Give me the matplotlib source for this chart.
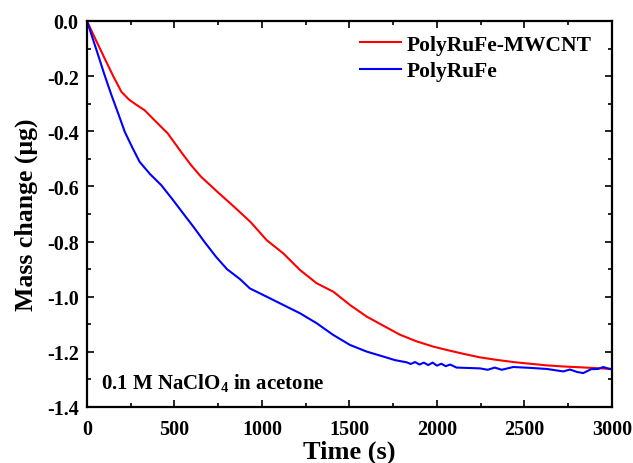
import matplotlib
matplotlib.use("Agg")
import matplotlib.pyplot as plt
from matplotlib.ticker import MultipleLocator, FormatStrFormatter

plt.rcParams['font.family'] = ['Liberation Serif', 'DejaVu Serif']
plt.rcParams['font.weight'] = 'bold'
plt.rcParams['mathtext.fontset'] = 'custom'
plt.rcParams['mathtext.rm'] = 'Liberation Serif:bold'
plt.rcParams['mathtext.bf'] = 'Liberation Serif:bold'

red_t = [0, 50, 102, 150, 197, 240, 273, 330, 386, 462, 538, 595, 652, 746, 841,
         936, 1027, 1122, 1217, 1312, 1408, 1503, 1598, 1693, 1789, 1884, 1979, 2055,
         2150, 2246, 2340, 2436, 2530, 2627, 2720, 2817, 2910, 3000]
red_y = [0, -0.068, -0.137, -0.20, -0.257, -0.285, -0.30, -0.324, -0.36, -0.408,
         -0.475, -0.523, -0.565, -0.62, -0.674, -0.73, -0.795, -0.843, -0.903, -0.951,
         -0.982, -1.030, -1.072, -1.105, -1.138, -1.162, -1.181, -1.193, -1.207, -1.22,
         -1.229, -1.237, -1.243, -1.249, -1.253, -1.256, -1.259, -1.262]

blue_t = [0, 64, 100, 140, 180, 216, 260, 301, 360, 424, 490, 557, 615, 670, 737,
          800, 874, 931, 1027, 1122, 1217, 1312, 1408, 1503, 1598, 1693, 1760, 1827,
          1850, 1875, 1900, 1925, 1950, 1975, 2000, 2025, 2050, 2075, 2112, 2246, 2290,
          2330, 2370, 2436, 2530, 2627, 2680, 2722, 2760, 2800, 2836, 2880, 2920, 2950,
          2975, 3000]
blue_y = [0, -0.124, -0.195, -0.269, -0.338, -0.402, -0.46, -0.511, -0.555, -0.595,
          -0.648, -0.704, -0.752, -0.80, -0.855, -0.90, -0.936, -0.970, -1.0, -1.030,
          -1.06, -1.096, -1.139, -1.175, -1.199, -1.217, -1.230, -1.238, -1.244, -1.237,
          -1.246, -1.239, -1.248, -1.239, -1.250, -1.243, -1.252, -1.246, -1.257, -1.26,
          -1.265, -1.257, -1.265, -1.255, -1.258, -1.262, -1.267, -1.271, -1.264, -1.273,
          -1.277, -1.263, -1.262, -1.255, -1.26, -1.264]

labels = ["PolyRuFe-MWCNT", "PolyRuFe"]
note = '0.1 M NaClO$_4$ in acetone'

fig = plt.figure(figsize=(6.33, 4.64), dpi=100)
ax = fig.add_axes([0.1374, 0.1207, 0.8294, 0.8319])
ax.plot(red_t, red_y, color='#ff0000', lw=1.5, label=labels[0])
ax.plot(blue_t, blue_y, color='#0000ff', lw=1.5, label=labels[1])

ax.set_xlim(0, 3000)
ax.set_ylim(-1.4, 0.0)
ax.xaxis.set_major_locator(MultipleLocator(500))
ax.xaxis.set_minor_locator(MultipleLocator(250))
ax.yaxis.set_major_locator(MultipleLocator(0.2))
ax.yaxis.set_minor_locator(MultipleLocator(0.1))
ax.yaxis.set_major_formatter(FormatStrFormatter('%.1f'))
ax.tick_params(which='both', direction='in', top=True, right=True, labelsize=14.5, width=1.2)
ax.tick_params(which='major', length=5)
ax.tick_params(which='minor', length=3)
ax.tick_params(axis='x', which='major', pad=9)
ax.tick_params(axis='y', which='major', pad=6)
for s in ax.spines.values():
    s.set_linewidth(1.6)
for lab in ax.get_xticklabels() + ax.get_yticklabels():
    lab.set_fontweight('bold')

ax.set_xlabel('Time (s)', fontsize=19, fontweight='bold', labelpad=0)
ax.set_ylabel('Mass change (μg)', fontsize=18.5, fontweight='bold', labelpad=6)

leg = ax.legend(loc='upper right', frameon=False, fontsize=15.5, handlelength=1.9,
                handletextpad=0.3, labelspacing=0.3, borderaxespad=0, borderpad=0,
                bbox_to_anchor=(0.962, 0.965))
for t in leg.get_texts():
    t.set_fontweight('bold')

ax.text(0.027, 0.047, note, transform=ax.transAxes,
        fontsize=15, fontweight='bold', ha='left', va='baseline')

fig.savefig('out.png', dpi=100)
